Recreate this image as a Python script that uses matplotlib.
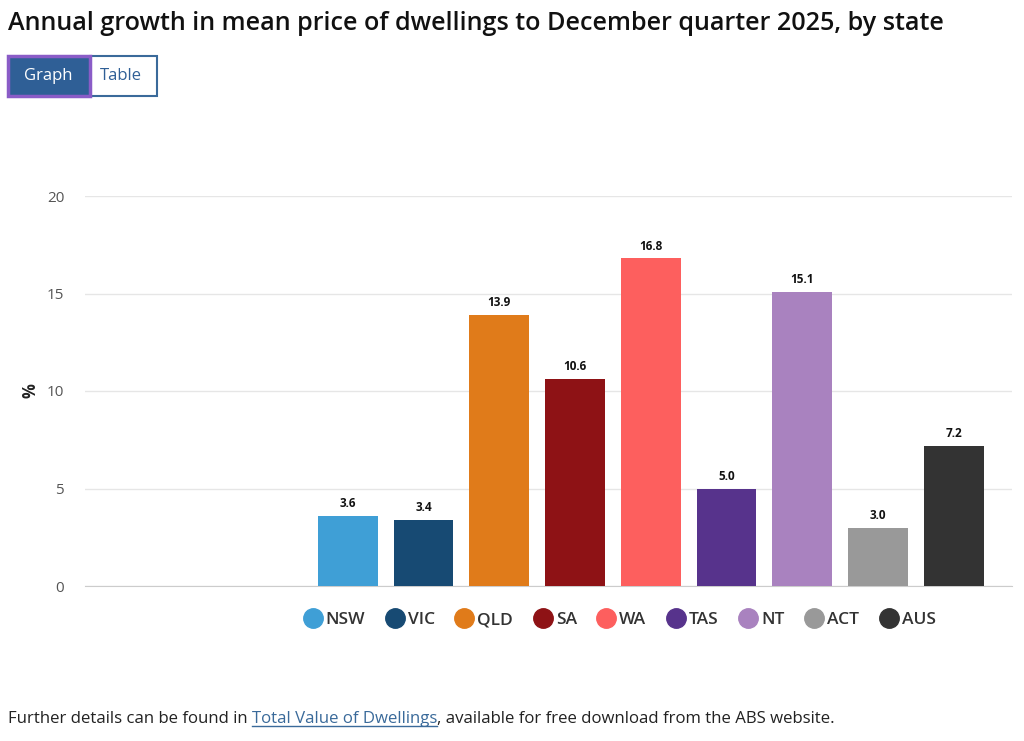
import matplotlib
matplotlib.use('Agg')
import matplotlib.pyplot as plt
from matplotlib.patches import Rectangle
from matplotlib.lines import Line2D

plt.rcParams['font.family'] = ['Open Sans', 'DejaVu Sans']

states = ['NSW', 'VIC', 'QLD', 'SA', 'WA', 'TAS', 'NT', 'ACT', 'AUS']
growth = [3.6, 3.4, 13.9, 10.6, 16.8, 5.0, 15.1, 3.0, 7.2]
colours = ['#3f9fd6', '#174a73', '#e07b1a', '#8e1215', '#fd5f5e',
           '#57338c', '#a982bf', '#999999', '#333333']
yticks = [0, 5, 10, 15, 20]

W, H = 1024, 741
fig = plt.figure(figsize=(W / 100, H / 100), dpi=100)

# title
fig.text(8 / W, 1 - 23 / H, 'Annual growth in mean price of dwellings to December quarter 2025, by state',
         fontsize=18.1, fontweight='semibold', color='#111111', va='center', ha='left')

# Graph / Table buttons
fig.patches.append(Rectangle((90 / W, 1 - 96 / H), 67 / W, 40 / H, transform=fig.transFigure,
                             facecolor='white', edgecolor='#3a6a9a', linewidth=1.5))
fig.patches.append(Rectangle((8 / W, 1 - 96 / H), 82 / W, 40 / H, transform=fig.transFigure,
                             facecolor='#2f5f96', edgecolor='#8a5cc7', linewidth=2.5))
fig.text(48 / W, 1 - 76 / H, 'Graph', color='white', fontsize=12, ha='center', va='center')
fig.text(121 / W, 1 - 76 / H, 'Table', color='#2f5f96', fontsize=12, ha='center', va='center')

# chart
ax = fig.add_axes([85 / W, 155 / H, (1012 - 85) / W, 390 / H])
x = list(range(len(states)))
bars = ax.bar(x, growth, width=0.79, color=colours, zorder=3)
for xi, v in zip(x, growth):
    ax.text(xi, v + 0.3, f'{v:.1f}', ha='center', va='bottom', fontsize=8.5,
            fontweight='bold', color='#111111')

ax.set_xlim(-3.47, 8.77)
ax.set_ylim(0, 20)
ax.set_yticks(yticks)
ax.set_yticklabels([str(t) for t in yticks], color='#555555', fontsize=11)
ax.set_xticks([])
ax.tick_params(axis='y', length=0, pad=15)
ax.grid(axis='y', color='#e6e6e6', linewidth=1, zorder=0)
for s in ['top', 'right', 'left']:
    ax.spines[s].set_visible(False)
ax.spines['bottom'].set_color('#cccccc')
ax.set_ylabel('%', fontsize=12, fontweight='bold', color='#222222')
ax.yaxis.set_label_coords(-45 / (1012 - 85), 0.5)

handles = [Line2D([], [], marker='o', linestyle='', markersize=14,
                  markerfacecolor=c, markeredgecolor=c) for c in colours]
fig.legend(handles, states, loc='center', bbox_to_anchor=(619 / W, 1 - 620 / H), ncol=9,
           frameon=False, handletextpad=0.15, columnspacing=1.1, handlelength=1.2,
           prop={'size': 12.5, 'weight': 'semibold'}, labelcolor='#333333')

# footer with link
fig.canvas.draw()
r = fig.canvas.get_renderer()
fy = 1 - 719 / H
xpos = 8 / W
parts = [('Further details can be found in ', '#222222', False),
         ('Total Value of Dwellings', '#3a6a9a', True),
         (', available for free download from the ABS website.', '#222222', False)]
for txt, col, link in parts:
    t = fig.text(xpos, fy, txt, fontsize=12.1, color=col, ha='left', va='center')
    bb = t.get_window_extent(renderer=r)
    if link:
        fig.lines.append(Line2D([bb.x0 / W, bb.x1 / W], [(bb.y0 + 1) / H, (bb.y0 + 1) / H],
                                transform=fig.transFigure, color=col, linewidth=1))
    xpos = bb.x1 / W

fig.savefig('out.png', dpi=100)
